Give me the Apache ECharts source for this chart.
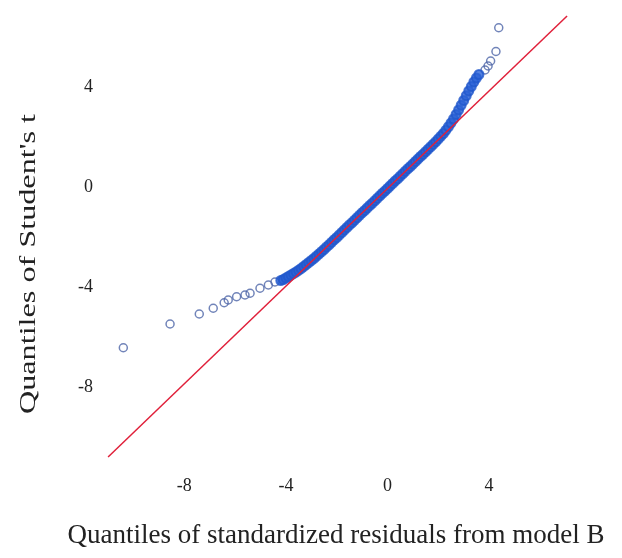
<!DOCTYPE html>
<html>
<head>
<meta charset="utf-8">
<script src="https://cdn.jsdelivr.net/npm/echarts@6/dist/echarts.min.js"></script>
<style>
  html, body { margin: 0; padding: 0; background: #fff; }
  #main { width: 622px; height: 558px; }
</style>
</head>
<body>
<div id="main"></div>
<script>
// tick labels on both axes
const xTicks = [-8, -4, 0, 4];
const yTicks = [-8, -4, 0, 4];

// sparse points in the lower tail  [residual quantile, t quantile]
const lowerTail = [
  [-10.40, -6.43], [-8.56, -5.48], [-7.41, -5.08], [-6.86, -4.85],
  [-6.43, -4.63], [-6.27, -4.52], [-5.94, -4.39], [-5.61, -4.32],
  [-5.41, -4.25], [-5.02, -4.05], [-4.69, -3.92], [-4.43, -3.80]
];

// dense band of points along the middle
const band = [
  [-4.2, -3.74], [-4.1, -3.70], [-4.0, -3.64], [-3.9, -3.58], [-3.8, -3.52],
  [-3.7, -3.46], [-3.6, -3.40], [-3.5, -3.33], [-3.4, -3.26], [-3.3, -3.18],
  [-3.2, -3.10], [-3.1, -3.02], [-3.0, -2.94], [-2.9, -2.86], [-2.8, -2.77],
  [-2.7, -2.68], [-2.6, -2.59], [-2.5, -2.50], [-2.4, -2.40], [-2.3, -2.31],
  [-2.2, -2.21], [-2.1, -2.11], [-2.0, -2.02], [-1.9, -1.92], [-1.8, -1.82],
  [-1.7, -1.72], [-1.6, -1.62], [-1.5, -1.52], [-1.4, -1.43], [-1.3, -1.33],
  [-1.2, -1.23], [-1.1, -1.13], [-1.0, -1.03], [-0.9, -0.94], [-0.8, -0.84],
  [-0.7, -0.74], [-0.6, -0.65], [-0.5, -0.55], [-0.4, -0.45], [-0.3, -0.35],
  [-0.2, -0.25], [-0.1, -0.16], [0.0, -0.06], [0.1, 0.04], [0.2, 0.14],
  [0.3, 0.24], [0.4, 0.33], [0.5, 0.43], [0.6, 0.53], [0.7, 0.63],
  [0.8, 0.73], [0.9, 0.82], [1.0, 0.92], [1.1, 1.02], [1.2, 1.12],
  [1.3, 1.22], [1.4, 1.31], [1.5, 1.41], [1.6, 1.51], [1.7, 1.61],
  [1.8, 1.71], [1.9, 1.81], [2.0, 1.92], [2.1, 2.03], [2.2, 2.14],
  [2.3, 2.27], [2.4, 2.41], [2.5, 2.56], [2.6, 2.72], [2.7, 2.90],
  [2.8, 3.08], [2.9, 3.27], [3.0, 3.46], [3.1, 3.65], [3.2, 3.84],
  [3.3, 4.02], [3.4, 4.20], [3.5, 4.36], [3.6, 4.50]
];

// sparse points in the upper tail
const upperTail = [
  [3.84, 4.68], [3.96, 4.84], [4.06, 5.04], [4.27, 5.42], [4.38, 6.37]
];

// reference line end points
const refLine = [[-11.0, -10.80], [7.07, 6.84]];

const xTitle = "Quantiles of standardized residuals from model B";
const yTitle = "Quantiles of Student's t";

const chart = echarts.init(document.getElementById("main"));

const font = "'Liberation Serif', 'DejaVu Serif', serif";

const option = {
  backgroundColor: "#fff",
  animation: false,
  grid: { left: 103, right: 44, top: 12, height: 450 },
  xAxis: {
    type: "value",
    min: -11.2,
    max: 7.5,
    axisLine: { show: false },
    axisTick: { show: false },
    splitLine: { show: false },
    axisLabel: {
      customValues: xTicks,
      margin: 15,
      color: "#222",
      fontFamily: font,
      fontSize: 18
    }
  },
  yAxis: {
    type: "value",
    min: -11,
    max: 7,
    axisLine: { show: false },
    axisTick: { show: false },
    splitLine: { show: false },
    axisLabel: {
      customValues: yTicks,
      margin: 10,
      color: "#222",
      fontFamily: font,
      fontSize: 18
    }
  },
  graphic: [
    {
      type: "text",
      x: 336, y: 536,
      style: {
        text: xTitle, fill: "#222", font: "27px " + font,
        textAlign: "center", textVerticalAlign: "middle"
      }
    },
    {
      type: "text",
      x: 29, y: 264,
      rotation: Math.PI / 2,
      scaleX: 1.4,
      style: {
        text: yTitle, fill: "#222", font: "23px " + font,
        textAlign: "center", textVerticalAlign: "middle"
      }
    }
  ],
  series: [
    {
      type: "scatter",
      data: lowerTail.concat(upperTail),
      symbol: "circle",
      symbolSize: 8,
      itemStyle: { color: "transparent", borderColor: "#4d65a8", borderWidth: 1.5 }
    },
    {
      type: "scatter",
      data: band,
      symbol: "circle",
      symbolSize: 9,
      itemStyle: { color: "#2a62d6", borderColor: "#2058cc", borderWidth: 2 }
    },
    {
      type: "line",
      data: refLine,
      symbol: "none",
      lineStyle: { color: "#e0203a", width: 1.5 },
      z: 5
    }
  ]
};

chart.setOption(option);
</script>
</body>
</html>
